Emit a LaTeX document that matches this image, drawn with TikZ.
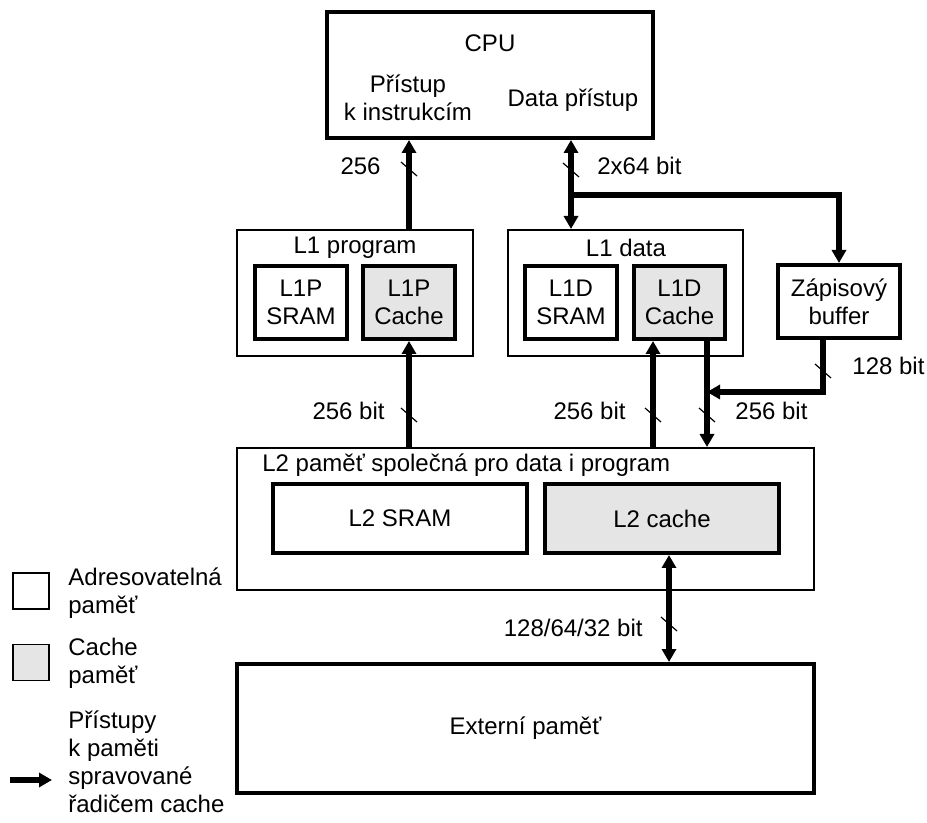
\documentclass[tikz,border=0pt]{standalone}
\usepackage{fontspec}
\setmainfont{Liberation Sans}
\usetikzlibrary{arrows.meta, positioning, calc}

\tikzset{
  box/.style={draw, line width=2pt, inner sep=0pt, align=center},
  thinbox/.style={draw, line width=1pt, inner sep=0pt},
  cachebox/.style={box, fill=gray!20},
  bus/.style={line width=3pt},
  tick/.style={line width=0.6pt},
  lbl/.style={inner sep=0pt, align=center}
}

\begin{document}
\begin{tikzpicture}[x=0.5pt, y=-0.5pt, >={Triangle[length=6.5pt, width=7pt]},
    every node/.style={font=\fontsize{12}{14}\selectfont}]
    \useasboundingbox (0,0) rectangle (927,823);
    % CPU
    \node[box, minimum width=163pt, minimum height=63pt] (cpu) at (490,75) {};
    \node[lbl] (cputxt) at (490,43) {CPU};
    \node[lbl] (instr) at (408,98) {Přístup\\k instrukcím};
    \node[lbl] (dacc) at (573,100) {Data přístup};
    % L1 program
    \node[thinbox, minimum width=118pt, minimum height=63pt] (l1p) at (355,293) {};
    \node[lbl] (l1ptxt) at (355,248) {L1 program};
    \node[box, minimum width=46pt, minimum height=36.5pt] (l1psram) at (301,302.5) {L1P\\SRAM};
    \node[cachebox, minimum width=46pt, minimum height=36.5pt] (l1pcache) at (409,302.5) {L1P\\Cache};
    % L1 data
    \node[thinbox, minimum width=117.5pt, minimum height=63pt] (l1d) at (625.5,293) {};
    \node[lbl] (l1dtxt) at (626,248) {L1 data};
    \node[box, minimum width=46pt, minimum height=36.5pt] (l1dsram) at (571,302.5) {L1D\\SRAM};
    \node[cachebox, minimum width=45.5pt, minimum height=36.5pt] (l1dcache) at (679.5,302.5) {L1D\\Cache};
    % write buffer
    \node[box, minimum width=61pt, minimum height=36.5pt] (buf) at (839,301.5) {Zápisový\\buffer};
    % L2
    \node[thinbox, minimum width=288.5pt, minimum height=71pt] (l2) at (525.5,519) {};
    \node[lbl, anchor=west] (l2txt) at (262,465) {L2 paměť společná pro data i program};
    \node[box, minimum width=127pt, minimum height=34.5pt] (l2sram) at (400,518.5) {L2 SRAM};
    \node[cachebox, minimum width=117pt, minimum height=34.5pt] (l2cache) at (662,518.5) {L2 cache};
    % external memory
    \node[box, minimum width=288.5pt, minimum height=64.5pt] (ext) at (525.5,728.5) {Externí paměť};

    % junctions
    \coordinate (dj) at (571,195);
    \coordinate (rd) at (653,0);
    \coordinate (wb) at (707,392);
    \coordinate (wbv) at (823,392);
    \coordinate (xb) at (669,0);

    % buses
    \draw[bus, ->] (l1p.north -| l1pcache) -- (cpu.south -| l1pcache);
    \draw[bus, <->] (cpu.south -| l1dsram) -- (l1d.north -| l1dsram);
    \draw[bus, ->] (dj) -| (buf.north);
    \draw[bus, ->] (l2.north -| l1pcache) -- (l1pcache.south);
    \draw[bus, ->] (l2.north -| rd) -- (l1dcache.south -| rd);
    \draw[bus, ->] (l1dcache.south -| wb) -- (l2.north -| wb);
    \draw[bus, ->] (buf.south -| wbv) -- (wbv) -- (wb);
    \draw[bus, <->] (l2cache.south -| xb) -- (ext.north -| xb);

    % bus width ticks
    \draw[tick] (401,162) -- ++(16,14);
    \draw[tick] (563,163) -- ++(16,14);
    \draw[tick] (401,408) -- ++(16,14);
    \draw[tick] (645,408) -- ++(16,14);
    \draw[tick] (699,408) -- ++(16,14);
    \draw[tick] (815,364) -- ++(16,14);
    \draw[tick] (661,617) -- ++(16,14);

    % bus labels
    \node[lbl, anchor=east] (w1) at (381,166) {256};
    \node[lbl, anchor=west] (w2) at (597,166) {2x64 bit};
    \node[lbl, anchor=east] (w3) at (385,411) {256 bit};
    \node[lbl, anchor=east] (w4) at (626,411) {256 bit};
    \node[lbl, anchor=west] (w5) at (735,411) {256 bit};
    \node[lbl, anchor=west] (w6) at (852,366) {128 bit};
    \node[lbl, anchor=east] (w7) at (643,628) {128/64/32 bit};

    % legend
    \node[thinbox, line width=0.7pt, minimum size=18pt] (leg1) at (31,591) {};
    \node[lbl, anchor=west, align=left] (leg1txt) at (68,593) {Adresovatelná\\paměť};
    \node[thinbox, line width=0.7pt, fill=gray!20, minimum size=18pt] (leg2) at (31,662.5) {};
    \node[lbl, anchor=west, align=left] (leg2txt) at (68,663) {Cache\\paměť};
    \coordinate (la) at (10,780);
    \coordinate (lb) at (52,780);
    \draw[bus, ->] (la) -- (lb);
    \node[lbl, anchor=west, align=left] (leg3txt) at (68,762) {Přístupy\\k paměti\\spravované\\řadičem cache};
\end{tikzpicture}
\end{document}
